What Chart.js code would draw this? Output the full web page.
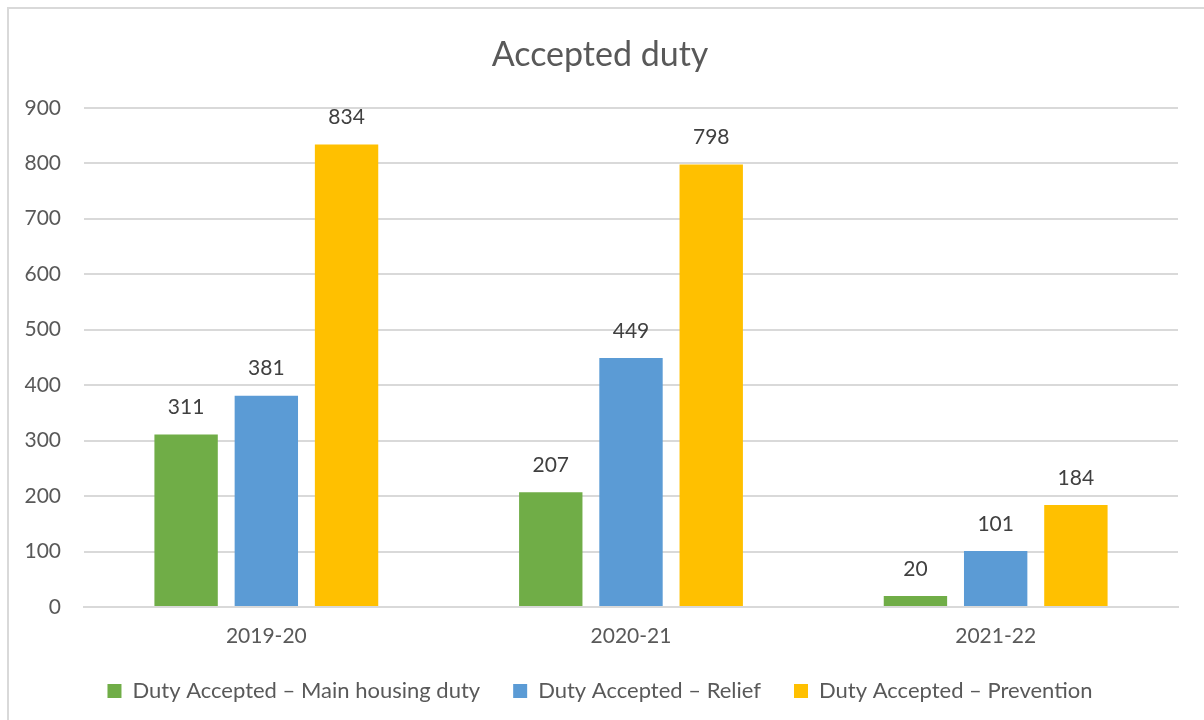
<!DOCTYPE html>
<html>
<head>
<meta charset="utf-8">
<script src="https://cdn.jsdelivr.net/npm/chart.js@4.4.0/dist/chart.umd.min.js"></script>
<style>
  html, body { margin: 0; padding: 0; background: #fff; }
  #wrap { position: relative; width: 1204px; height: 720px; overflow: hidden; }
  #frame { position: absolute; left: 7px; top: 7px; width: 1250px; height: 800px; border: 2px solid #d9d9d9; box-sizing: border-box; }
  canvas { position: absolute; left: 0; top: 0; }
</style>
</head>
<body>
<div id="wrap">
  <div id="frame"></div>
  <canvas id="grafico" width="1204" height="720"></canvas>
</div>
<script>
// datos
const categorias = ['2019-20', '2020-21', '2021-22'];
const principal = [311, 207, 20];
const alivio = [381, 449, 101];
const prevencion = [834, 798, 184];
const nombresSeries = ['Duty Accepted \u2013 Main housing duty', 'Duty Accepted \u2013 Relief', 'Duty Accepted \u2013 Prevention'];
const colores = ['#70AD47', '#5B9BD5', '#FFC000'];

const fuente = 'Lato, "Open Sans", sans-serif';
const gris = '#595959';

// etiquetas de valor encima de cada barra
const etiquetasValor = {
    id: 'etiquetasValor',
    afterDatasetsDraw(chart) {
        const ctx = chart.ctx;
        ctx.save();
        ctx.font = '21px ' + fuente;
        ctx.fillStyle = '#404040';
        ctx.textAlign = 'center';
        ctx.textBaseline = 'middle';
        chart.data.datasets.forEach((ds, i) => {
            const meta = chart.getDatasetMeta(i);
            meta.data.forEach((bar, j) => {
                ctx.fillText(ds.data[j], bar.x, bar.y - 27);
            });
        });
        ctx.restore();
    }
};

const ctx = document.getElementById('grafico').getContext('2d');
new Chart(ctx, {
    type: 'bar',
    data: {
        labels: categorias,
        datasets: [
            { label: nombresSeries[0], data: principal, backgroundColor: colores[0] },
            { label: nombresSeries[1], data: alivio, backgroundColor: colores[1] },
            { label: nombresSeries[2], data: prevencion, backgroundColor: colores[2] }
        ]
    },
    options: {
        responsive: false,
        animation: false,
        categoryPercentage: 0.66,
        barPercentage: 0.79,
        layout: { padding: { left: 22, right: 26, top: 0, bottom: 8 } },
        plugins: {
            title: {
                display: true,
                text: 'Accepted duty',
                color: gris,
                font: { family: fuente, size: 34, weight: 'normal' },
                padding: { top: 35, bottom: 32 }
            },
            legend: {
                position: 'bottom',
                labels: {
                    boxWidth: 14,
                    boxHeight: 14,
                    color: gris,
                    padding: 33,
                    font: { family: fuente, size: 22 }
                }
            },
            tooltip: { enabled: false }
        },
        scales: {
            x: {
                afterFit(scale) { scale.height = 40; },
                grid: { display: false, drawTicks: false },
                border: { color: '#d9d9d9', width: 2 },
                ticks: { color: gris, padding: 17, font: { family: fuente, size: 21 } }
            },
            y: {
                min: 0,
                max: 900,
                afterFit(scale) { scale.width = 62; },
                grid: { color: '#d9d9d9', lineWidth: 2, drawTicks: false },
                border: { display: false },
                ticks: { stepSize: 100, color: gris, padding: 23, font: { family: fuente, size: 21 } }
            }
        }
    },
    plugins: [etiquetasValor]
});
</script>
</body>
</html>
